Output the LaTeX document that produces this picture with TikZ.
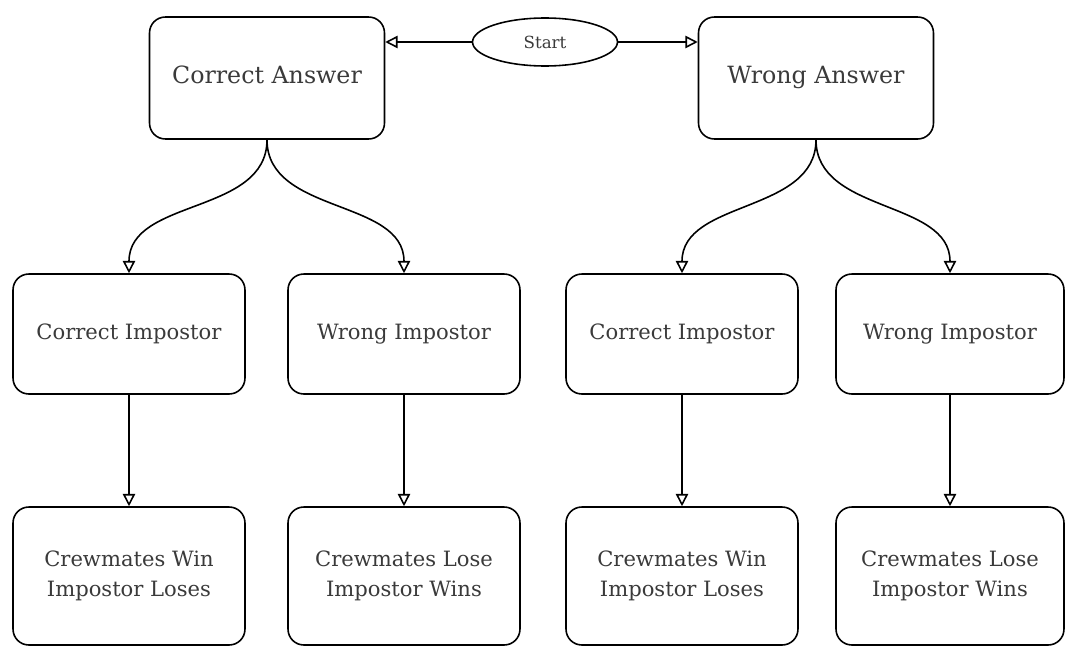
\documentclass[tikz,border=0pt]{standalone}
\usepackage{fontspec}
\setmainfont{DejaVu Serif}
\usepackage{tikz}
\usetikzlibrary{positioning,calc,arrows.meta,shapes.geometric}
\definecolor{inkgray}{HTML}{3A3A3A}

\begin{document}
\begin{tikzpicture}[x=0.02cm, y=-0.02cm,
  box/.style={draw, line width=0.9pt, rounded corners=9pt, align=center,
    text=inkgray, inner sep=0pt},
  bigbox/.style={box, minimum width=4.7cm, minimum height=2.44cm,
    text height=1.6ex, text depth=0.5ex, font=\fontsize{13.5}{16}\selectfont},
  midbox/.style={box, minimum width=4.64cm, minimum height=2.4cm,
    text height=1.6ex, text depth=0.5ex, font=\fontsize{12}{14}\selectfont},
  endbox/.style={box, minimum width=4.64cm, minimum height=2.76cm,
    font=\fontsize{12}{17}\selectfont},
  arr/.style={draw, line width=0.9pt, -{Triangle[open,length=7pt,width=7pt]}}]
\useasboundingbox (0,0) rectangle (1066,649);
% Start and answers
\node[ellipse, draw, line width=0.9pt, minimum width=2.9cm, minimum height=0.96cm,
  inner sep=0pt, text=inkgray, font=\fontsize{9.5}{11}\selectfont] (start) at (545,42) {Start};
\node[bigbox] (ansC) at (267,78) {Correct Answer};
\node[bigbox] (ansW) at (816,78) {Wrong Answer};
\draw[arr] (start.west) -- (start.west -| ansC.east);
\draw[arr] (start.east) -- (start.east -| ansW.west);
% Impostor guesses
\node[midbox] (impCC) at (129,334) {Correct Impostor};
\node[midbox] (impCW) at (404,334) {Wrong Impostor};
\node[midbox] (impWC) at (682,334) {Correct Impostor};
\node[midbox, minimum width=4.56cm] (impWW) at (950,334) {Wrong Impostor};
\draw[arr] (ansC.south) to[out=-90, in=90] (impCC.north);
\draw[arr] (ansC.south) to[out=-90, in=90] (impCW.north);
\draw[arr] (ansW.south) to[out=-90, in=90] (impWC.north);
\draw[arr] (ansW.south) to[out=-90, in=90] (impWW.north);
% Outcomes
\node[endbox] (endCC) at (129,576) {Crewmates Win\\Impostor Loses};
\node[endbox] (endCW) at (404,576) {Crewmates Lose\\Impostor Wins};
\node[endbox] (endWC) at (682,576) {Crewmates Win\\Impostor Loses};
\node[endbox, minimum width=4.56cm] (endWW) at (950,576) {Crewmates Lose\\Impostor Wins};
\foreach \a/\b in {impCC/endCC, impCW/endCW, impWC/endWC, impWW/endWW}
  \draw[arr] (\a.south) -- (\b.north);
\end{tikzpicture}
\end{document}
